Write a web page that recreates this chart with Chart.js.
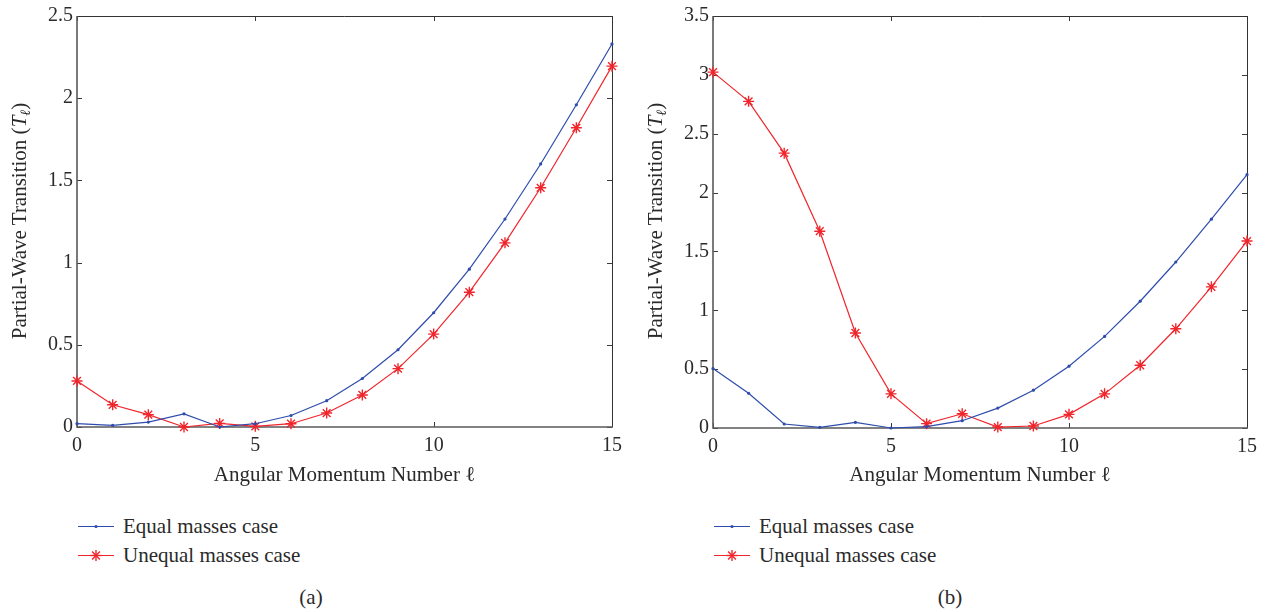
<!DOCTYPE html>
<html>
<head>
<meta charset="utf-8">
<script src="https://cdn.jsdelivr.net/npm/chart.js@4/dist/chart.umd.min.js"></script>
<style>
  html, body { margin:0; padding:0; background:#fff; }
  #wrap { position:relative; width:1266px; height:612px; overflow:hidden; font-family:'Liberation Serif','Times New Roman',serif; color:#2a2a2a; }
  .panel { position:absolute; top:0; width:633px; height:500px; }
  .ytitle { position:absolute; width:400px; height:24px; line-height:24px; text-align:center; font-size:21px; transform:rotate(-90deg); transform-origin:50% 50%; white-space:nowrap; }
  .ytitle sub { font-size:14px; vertical-align:-4px; line-height:0; }
  .leg { position:absolute; font-size:21px; line-height:24px; white-space:nowrap; }
  .leg svg { position:absolute; left:0; top:0; }
  .leg span { position:absolute; left:46px; top:0; }
  .cap { position:absolute; font-size:21px; line-height:24px; width:60px; text-align:center; }
</style>
</head>
<body>
<div id="wrap">
  <div class="panel" style="left:0"><canvas id="chartA" width="633" height="500"></canvas></div>
  <div class="panel" style="left:633px"><canvas id="chartB" width="633" height="500"></canvas></div>
</div>
<script>
// ---- data ----
const ells = [0, 1, 2, 3, 4, 5, 6, 7, 8, 9, 10, 11, 12, 13, 14, 15];
const equalA   = [0.02, 0.01, 0.03, 0.08, 0.0, 0.02, 0.07, 0.16, 0.295, 0.47, 0.695, 0.96, 1.265, 1.6, 1.96, 2.33];
const unequalA = [0.28, 0.135, 0.075, 0.0, 0.022, 0.004, 0.02, 0.085, 0.195, 0.355, 0.565, 0.82, 1.12, 1.455, 1.82, 2.195];
const equalB   = [0.505, 0.295, 0.034, 0.006, 0.048, 0.0, 0.011, 0.062, 0.169, 0.321, 0.525, 0.778, 1.077, 1.41, 1.774, 2.152];
const unequalB = [3.023, 2.775, 2.335, 1.672, 0.807, 0.29, 0.037, 0.121, 0.008, 0.017, 0.116, 0.29, 0.533, 0.843, 1.199, 1.588];
const xTickValues  = [0, 5, 10, 15];
const yTickValuesA = [0, 0.5, 1, 1.5, 2, 2.5];
const yTickValuesB = [0, 0.5, 1, 1.5, 2, 2.5, 3, 3.5];
const seriesLabels = ['Equal masses case', 'Unequal masses case'];
const xTitle = 'Angular Momentum Number \u2113';
const yTitleMain = 'Partial-Wave Transition';
const panelCaptions = ['(a)', '(b)'];

// ---- styling ----
const FONT = "'Liberation Serif', 'Times New Roman', serif";
const TXT = '#2a2a2a';
const BLUE = 'rgb(46,76,172)';
const RED = 'rgb(240,38,44)';

const boxPlugin = {
  id: 'matlabBox',
  beforeDatasetsDraw(chart) {
    const { ctx, chartArea: { left, right, top, bottom }, scales: { x, y } } = chart;
    ctx.save();
    ctx.strokeStyle = '#3a3a3a';
    ctx.lineWidth = 1;
    const tl = 5;
    x.ticks.forEach(t => {
      const px = Math.round(x.getPixelForValue(t.value)) + 0.5;
      ctx.beginPath();
      ctx.moveTo(px, bottom); ctx.lineTo(px, bottom - tl);
      ctx.moveTo(px, top); ctx.lineTo(px, top + tl);
      ctx.stroke();
    });
    y.ticks.forEach(t => {
      const py = Math.round(y.getPixelForValue(t.value)) + 0.5;
      ctx.beginPath();
      ctx.moveTo(left, py); ctx.lineTo(left + tl, py);
      ctx.moveTo(right, py); ctx.lineTo(right - tl, py);
      ctx.stroke();
    });
    // top & right (thin, dark)
    ctx.strokeStyle = '#333';
    ctx.lineWidth = 1;
    ctx.beginPath();
    ctx.moveTo(Math.round(left), Math.round(top) + 0.5);
    ctx.lineTo(Math.round(right) + 0.5, Math.round(top) + 0.5);
    ctx.lineTo(Math.round(right) + 0.5, Math.round(bottom));
    ctx.stroke();
    // left & bottom (slightly heavier, grey)
    ctx.strokeStyle = '#5a5a5a';
    ctx.lineWidth = 1.6;
    ctx.beginPath();
    ctx.moveTo(Math.round(left), Math.round(top));
    ctx.lineTo(Math.round(left), Math.round(bottom));
    ctx.lineTo(Math.round(right) + 1, Math.round(bottom));
    ctx.stroke();
    ctx.restore();
  }
};

function makeChart(id, equal, unequal, yTicks, yWidth, xHeight, rightPad) {
  const toPts = arr => ells.map((l, i) => ({ x: l, y: arr[i] }));
  return new Chart(document.getElementById(id), {
    type: 'line',
    data: {
      datasets: [
        { label: seriesLabels[0], data: toPts(equal), borderColor: BLUE, backgroundColor: BLUE,
          borderWidth: 1.2, pointStyle: 'circle', pointRadius: 1.6, pointBorderWidth: 0,
          pointBackgroundColor: BLUE, tension: 0, clip: false },
        { label: seriesLabels[1], data: toPts(unequal), borderColor: RED, backgroundColor: RED,
          borderWidth: 1.2, pointStyle: 'star', pointRadius: 5.5, pointBorderWidth: 1.4,
          pointBorderColor: RED, tension: 0, clip: false }
      ]
    },
    options: {
      responsive: false,
      animation: false,
      events: [],
      layout: { padding: { top: 15, right: rightPad, left: 0, bottom: 0 } },
      plugins: { legend: { display: false }, tooltip: { enabled: false } },
      scales: {
        x: {
          type: 'linear', min: xTickValues[0], max: xTickValues[xTickValues.length - 1],
          afterBuildTicks: s => { s.ticks = xTickValues.map(v => ({ value: v })); },
          afterFit: s => { s.height = xHeight; },
          grid: { display: false, drawTicks: false },
          border: { display: false },
          ticks: { font: { family: FONT, size: 20 }, color: TXT, padding: 7, maxRotation: 0, autoSkip: false },
          title: { display: true, text: xTitle, font: { family: FONT, size: 21 }, color: TXT, padding: { top: 0, bottom: 12 } }
        },
        y: {
          type: 'linear', min: yTicks[0], max: yTicks[yTicks.length - 1],
          afterBuildTicks: s => { s.ticks = yTicks.map(v => ({ value: v })); },
          afterFit: s => { s.width = yWidth; },
          grid: { display: false, drawTicks: false },
          border: { display: false },
          ticks: { font: { family: FONT, size: 20 }, color: TXT, padding: 4, autoSkip: false, callback: v => String(v) }
        }
      }
    },
    plugins: [boxPlugin]
  });
}

makeChart('chartA', equalA, unequalA, yTickValuesA, 77, 73, 21);
makeChart('chartB', equalB, unequalB, yTickValuesB, 80, 72, 19);

// ---- HTML annotations: y titles, legends, captions ----
const wrap = document.getElementById('wrap');
function addYTitle(cx, cy) {
  const d = document.createElement('div');
  d.className = 'ytitle';
  d.style.left = (cx - 200) + 'px';
  d.style.top = (cy - 12) + 'px';
  d.innerHTML = yTitleMain + ' (<i>T</i><sub><i>\u2113</i></sub>)';
  wrap.appendChild(d);
}
function addLegend(x, y) {
  const marks = [
    '<svg width="40" height="24"><line x1="1" y1="12.5" x2="37" y2="12.5" stroke="' + BLUE + '" stroke-width="1.2"/><circle cx="19" cy="12.5" r="1.6" fill="' + BLUE + '"/></svg>',
    '<svg width="40" height="24"><line x1="1" y1="12.5" x2="37" y2="12.5" stroke="' + RED + '" stroke-width="1.2"/>' +
      '<g stroke="' + RED + '" stroke-width="1.4"><line x1="19" y1="7" x2="19" y2="18"/><line x1="13.5" y1="12.5" x2="24.5" y2="12.5"/>' +
      '<line x1="15.1" y1="8.6" x2="22.9" y2="16.4"/><line x1="15.1" y1="16.4" x2="22.9" y2="8.6"/></g></svg>'
  ];
  seriesLabels.forEach((lab, i) => {
    const d = document.createElement('div');
    d.className = 'leg';
    d.style.left = x + 'px';
    d.style.top = (y + i * 29) + 'px';
    d.style.width = '270px';
    d.style.height = '24px';
    d.innerHTML = marks[i] + '<span>' + lab + '</span>';
    wrap.appendChild(d);
  });
}
function addCaption(cx, cy, text) {
  const d = document.createElement('div');
  d.className = 'cap';
  d.style.left = (cx - 30) + 'px';
  d.style.top = (cy - 12) + 'px';
  d.textContent = text;
  wrap.appendChild(d);
}
addYTitle(19, 221);
addYTitle(655, 221);
addLegend(77, 514);
addLegend(713, 514);
addCaption(311, 597, panelCaptions[0]);
addCaption(950, 597, panelCaptions[1]);
</script>
</body>
</html>
